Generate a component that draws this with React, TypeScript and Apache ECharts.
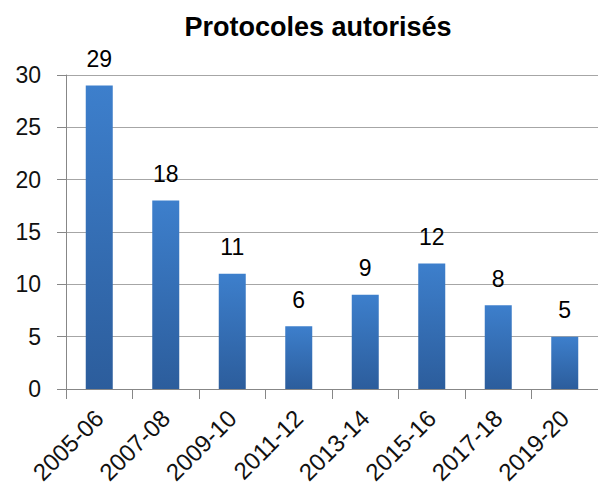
import React, { useEffect, useRef } from "react";
import * as echarts from "echarts";

const categories = ["2005-06", "2007-08", "2009-10", "2011-12", "2013-14", "2015-16", "2017-18", "2019-20"];
const values = [29, 18, 11, 6, 9, 12, 8, 5];
const titleText = "Protocoles autorisés";

export default function App() {
  const ref = useRef<HTMLDivElement>(null);
  useEffect(() => {
    document.body.style.margin = "0";
    const chart = echarts.init(ref.current!, null, { renderer: "svg" });
    const font = "'Liberation Sans', Arial, sans-serif";
    chart.setOption({
      animation: false,
      backgroundColor: "#ffffff",
      title: {
        text: titleText,
        left: 313,
        top: 8,
        textAlign: "center",
        textStyle: { fontFamily: font, fontWeight: "bold", fontSize: 27, color: "#000" },
      },
      grid: { left: 66, top: 75, width: 536, height: 314, containLabel: false },
      xAxis: {
        type: "category",
        data: categories,
        axisLine: { show: true, lineStyle: { color: "#878787", width: 1 } },
        axisTick: { show: true, alignWithLabel: false, length: 10, lineStyle: { color: "#878787" } },
        axisLabel: { rotate: 45, margin: 25, fontFamily: font, fontSize: 24, color: "#111", interval: 0 },
      },
      yAxis: {
        type: "value",
        min: 0,
        max: 30,
        interval: 5,
        axisLine: { show: true, lineStyle: { color: "#878787", width: 1 } },
        axisTick: { show: true, length: 9, lineStyle: { color: "#878787" } },
        axisLabel: { margin: 25, fontFamily: font, fontSize: 23, color: "#111" },
        splitLine: { show: true, lineStyle: { color: "#a6a6a6", width: 1 } },
      },
      series: [
        {
          type: "bar",
          data: values,
          barWidth: 27,
          itemStyle: {
            color: new echarts.graphic.LinearGradient(0, 0, 0, 1, [
              { offset: 0, color: "#3d7fcc" },
              { offset: 1, color: "#2c5d9c" },
            ]),
          },
          label: {
            show: true,
            position: "top",
            distance: 15,
            fontFamily: font,
            fontSize: 23,
            color: "#000",
          },
        },
      ],
    });
    return () => chart.dispose();
  }, []);
  return <div ref={ref} style={{ width: 598, height: 488 }} />;
}
